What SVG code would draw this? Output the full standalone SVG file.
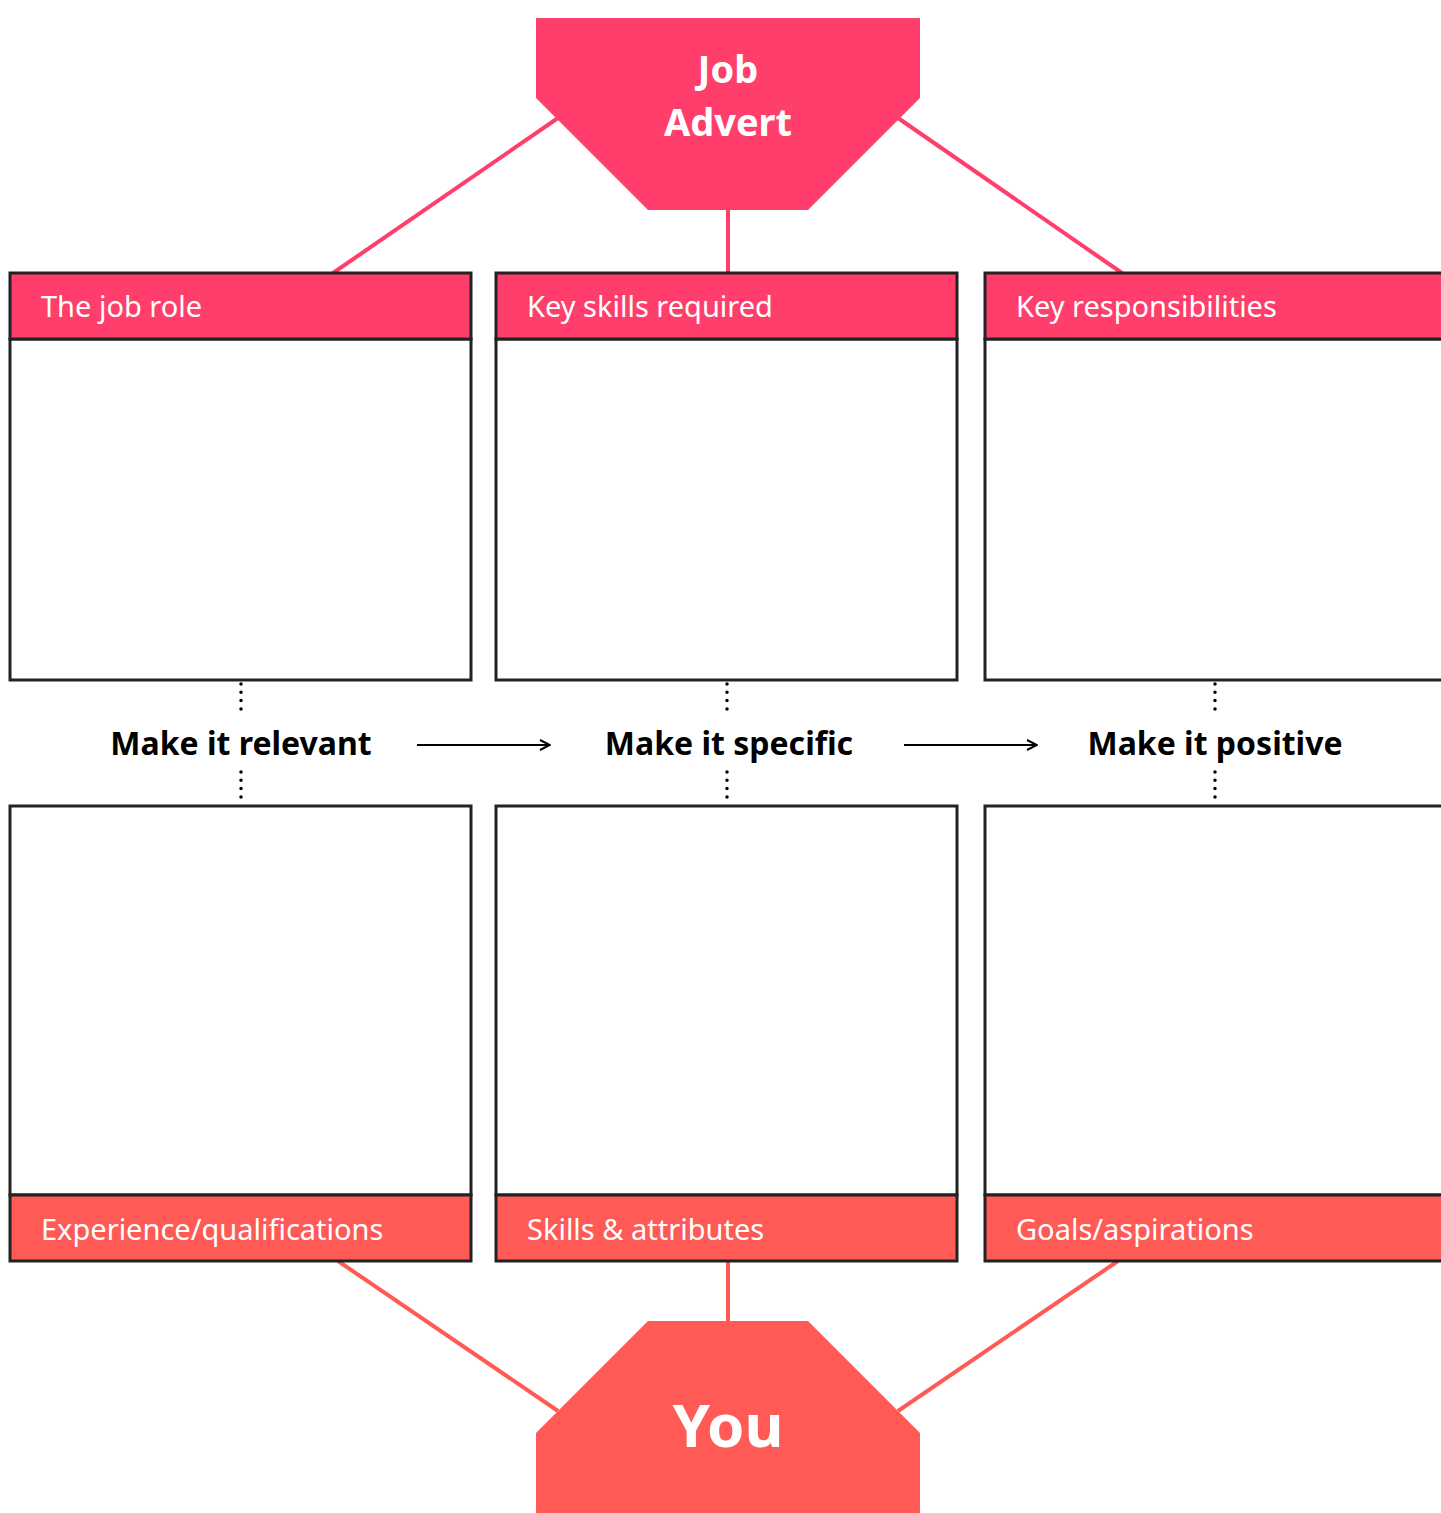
<svg xmlns="http://www.w3.org/2000/svg" width="1441" height="1513" viewBox="0 0 1441 1513">
<defs>
<style>
.top{fill:#FF3E6B}
.bot{fill:#FF5A56}
.ltop{stroke:#FF3E6B;stroke-width:4;fill:none}
.lbot{stroke:#FF5A56;stroke-width:4;fill:none}
.box{fill:#fff;stroke:#222;stroke-width:3}
.htop{fill:#FF3E6B;stroke:#222;stroke-width:3}
.hbot{fill:#FF5A56;stroke:#222;stroke-width:3}
.lbl{font-family:"Noto Sans","Open Sans",sans-serif;font-size:29px;fill:#fff}
.mid{font-family:"Noto Sans","Open Sans",sans-serif;font-size:32px;font-weight:bold;fill:#000;text-anchor:middle}
.big{font-family:"Noto Sans","Open Sans",sans-serif;font-weight:bold;fill:#fff;text-anchor:middle}
.dots{stroke:#000;stroke-width:3.5;stroke-linecap:round;stroke-dasharray:0 8.3;fill:none}
.arr{stroke:#000;stroke-width:2;fill:none}
</style>
<marker id="ah" viewBox="0 0 12 12" refX="11" refY="6" markerWidth="12" markerHeight="12" markerUnits="userSpaceOnUse" orient="auto">
<path d="M1,1 L11,6 L1,11" fill="none" stroke="#000" stroke-width="2"/>
</marker>
</defs>
<rect width="1441" height="1513" fill="#fff"/>
<g id="connectors">
<line class="ltop" x1="558" y1="118" x2="333" y2="273"/>
<line class="ltop" x1="898" y1="118" x2="1122" y2="273"/>
<line class="ltop" x1="728" y1="205" x2="728" y2="273"/>
<line class="lbot" x1="338" y1="1261" x2="558" y2="1411"/>
<line class="lbot" x1="1118" y1="1261" x2="898" y2="1411"/>
<line class="lbot" x1="728" y1="1261" x2="728" y2="1325"/>
<line class="dots" x1="241" y1="684" x2="241" y2="716"/>
<line class="dots" x1="241" y1="772" x2="241" y2="805"/>
<line class="dots" x1="727" y1="684" x2="727" y2="716"/>
<line class="dots" x1="727" y1="772" x2="727" y2="805"/>
<line class="dots" x1="1215" y1="684" x2="1215" y2="716"/>
<line class="dots" x1="1215" y1="772" x2="1215" y2="805"/>
<line class="arr" x1="417" y1="745" x2="550" y2="745" marker-end="url(#ah)"/>
<line class="arr" x1="904" y1="745" x2="1037" y2="745" marker-end="url(#ah)"/>
</g>
<g id="job-advert">
<polygon class="top" points="536,18 920,18 920,98 808,210 648,210 536,98"/>
<text class="big" font-size="38" x="728" y="83">Job</text>
<text class="big" font-size="38" x="728" y="136">Advert</text>
</g>
<g id="job-role">
<rect class="box" x="10" y="339" width="461" height="341"/>
<rect class="htop" x="10" y="273" width="461" height="66"/>
<text class="lbl" x="41" y="317">The job role</text>
</g>
<g id="key-skills">
<rect class="box" x="496" y="339" width="461" height="341"/>
<rect class="htop" x="496" y="273" width="461" height="66"/>
<text class="lbl" x="527" y="317">Key skills required</text>
</g>
<g id="key-resp">
<rect class="box" x="985" y="339" width="470" height="341"/>
<rect class="htop" x="985" y="273" width="470" height="66"/>
<text class="lbl" x="1016" y="317">Key responsibilities</text>
</g>
<g id="relevant"><text class="mid" x="241" y="755">Make it relevant</text></g>
<g id="specific"><text class="mid" x="729" y="755">Make it specific</text></g>
<g id="positive"><text class="mid" x="1215" y="755">Make it positive</text></g>
<g id="experience">
<rect class="box" x="10" y="806" width="461" height="389"/>
<rect class="hbot" x="10" y="1195" width="461" height="66"/>
<text class="lbl" x="41" y="1240">Experience/qualifications</text>
</g>
<g id="skills">
<rect class="box" x="496" y="806" width="461" height="389"/>
<rect class="hbot" x="496" y="1195" width="461" height="66"/>
<text class="lbl" x="527" y="1240">Skills &amp; attributes</text>
</g>
<g id="goals">
<rect class="box" x="985" y="806" width="470" height="389"/>
<rect class="hbot" x="985" y="1195" width="470" height="66"/>
<text class="lbl" x="1016" y="1240">Goals/aspirations</text>
</g>
<g id="you">
<polygon class="bot" points="648,1321 808,1321 920,1433 920,1520 536,1520 536,1433"/>
<text class="big" font-size="60" x="728" y="1447">You</text>
</g>
</svg>
